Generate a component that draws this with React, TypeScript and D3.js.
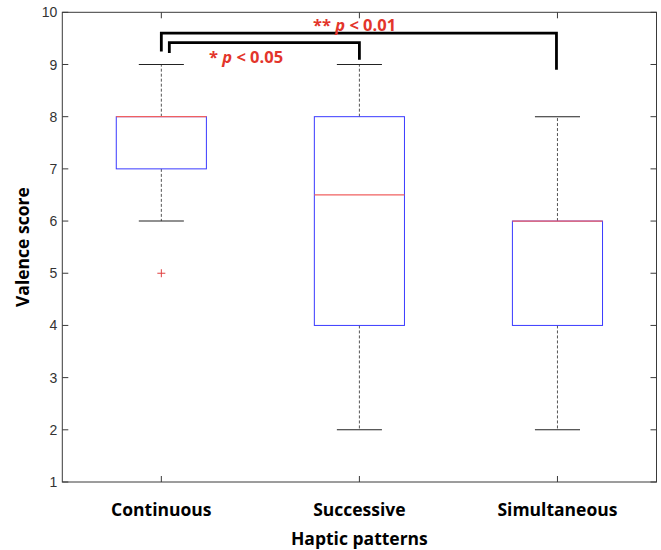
import React, { useEffect, useRef } from 'react';
import * as d3 from 'd3';

const categories = ['Continuous', 'Successive', 'Simultaneous'];
const whiskerLow = [6, 2, 2];
const q1 = [7, 4, 4];
const medians = [8, 6.5, 6];
const q3 = [8, 8, 6];
const whiskerHigh = [9, 9, 8];
const outliers = [{ group: 'Continuous', value: 5 }];
const yTicks = [1, 2, 3, 4, 5, 6, 7, 8, 9, 10];

// significance brackets: from, to, bracket level, label
const brackets = [
  { from: 'Continuous', to: 'Simultaneous', top: 9.6, leftEnd: 9.25, rightEnd: 8.9, stars: '**', label: '< 0.01' },
  { from: 'Continuous', to: 'Successive', top: 9.42, leftEnd: 9.22, rightEnd: 9.09, stars: '*', label: '< 0.05' },
];

const labelFont = '"Open Sans", "Noto Sans", sans-serif';

const App: React.FC = () => {
  const svgRef = useRef<SVGSVGElement>(null);
  const width = 661;
  const height = 550;

  useEffect(() => {
    if (!svgRef.current) return;
    const svg = d3.select(svgRef.current);
    svg.selectAll('*').remove();

    const margin = { top: 12.3, right: 4.5, bottom: 68, left: 62.3 };
    const x = d3.scaleBand<string>()
      .domain(categories)
      .range([margin.left, width - margin.right]);
    const y = d3.scaleLinear().domain([1, 10]).range([height - margin.bottom, margin.top]);
    const cx = (c: string) => (x(c) as number) + x.bandwidth() / 2;
    const boxW = x.bandwidth() * 0.455;
    const capW = boxW / 2;

    const axisColor = '#3a3a3a';

    // frame
    svg.append('rect')
      .attr('x', margin.left).attr('y', margin.top)
      .attr('width', width - margin.left - margin.right)
      .attr('height', height - margin.top - margin.bottom)
      .attr('fill', 'none').attr('stroke', axisColor).attr('stroke-width', 1);

    // y ticks (left and right, inward)
    const yt = svg.append('g');
    yTicks.forEach(t => {
      yt.append('line').attr('x1', margin.left).attr('x2', margin.left + 6)
        .attr('y1', y(t)).attr('y2', y(t)).attr('stroke', axisColor);
      yt.append('line').attr('x1', width - margin.right).attr('x2', width - margin.right - 6)
        .attr('y1', y(t)).attr('y2', y(t)).attr('stroke', axisColor);
      yt.append('text').attr('x', margin.left - 5).attr('y', y(t))
        .attr('dy', '0.36em').attr('text-anchor', 'end')
        .style('font-family', '"Liberation Sans", Arial, sans-serif')
        .style('font-size', '14px').style('fill', '#333')
        .text(t);
    });

    // x ticks (bottom and top, inward)
    categories.forEach(c => {
      svg.append('line').attr('x1', cx(c)).attr('x2', cx(c))
        .attr('y1', y(1)).attr('y2', y(1) - 6).attr('stroke', axisColor);
      svg.append('line').attr('x1', cx(c)).attr('x2', cx(c))
        .attr('y1', y(10)).attr('y2', y(10) + 6).attr('stroke', axisColor);
      svg.append('text').attr('x', cx(c)).attr('y', 516)
        .attr('text-anchor', 'middle')
        .style('font-family', labelFont)
        .style('font-weight', 'bold').style('font-size', '17.5px').style('fill', '#000')
        .text(c);
    });

    // axis titles
    svg.append('text').attr('x', cx('Successive')).attr('y', 545)
      .attr('text-anchor', 'middle')
      .style('font-family', labelFont)
      .style('font-weight', 'bold').style('font-size', '17.5px')
      .text('Haptic patterns');
    svg.append('text')
      .attr('transform', `translate(29, ${(y(1) + y(10)) / 2}) rotate(-90)`)
      .attr('text-anchor', 'middle')
      .style('font-family', labelFont)
      .style('font-weight', 'bold').style('font-size', '17.5px')
      .text('Valence score');

    // boxes
    categories.forEach((c, i) => {
      const g = svg.append('g');
      const xc = cx(c);
      // whiskers
      g.append('line').attr('x1', xc).attr('x2', xc).attr('y1', y(q3[i])).attr('y2', y(whiskerHigh[i]))
        .attr('stroke', '#555').attr('stroke-dasharray', '3,2');
      g.append('line').attr('x1', xc).attr('x2', xc).attr('y1', y(q1[i])).attr('y2', y(whiskerLow[i]))
        .attr('stroke', '#555').attr('stroke-dasharray', '3,2');
      // caps
      [whiskerHigh[i], whiskerLow[i]].forEach(v => {
        g.append('line').attr('x1', xc - capW / 2).attr('x2', xc + capW / 2)
          .attr('y1', y(v)).attr('y2', y(v)).attr('stroke', '#222').attr('stroke-width', 1.1);
      });
      // box
      g.append('rect').attr('x', xc - boxW / 2).attr('y', y(q3[i]))
        .attr('width', boxW).attr('height', y(q1[i]) - y(q3[i]))
        .attr('fill', 'none').attr('stroke', '#3a3aff').attr('stroke-width', 1);
      // median
      g.append('line').attr('x1', xc - boxW / 2).attr('x2', xc + boxW / 2)
        .attr('y1', y(medians[i])).attr('y2', y(medians[i]))
        .attr('stroke', '#f06060').attr('stroke-width', 1.2);
    });

    // outliers
    outliers.forEach(o => {
      const xc = cx(o.group);
      const yy = y(o.value);
      svg.append('path').attr('d', `M${xc - 4},${yy}H${xc + 4}M${xc},${yy - 4}V${yy + 4}`)
        .attr('stroke', '#e04040').attr('stroke-width', 1);
    });

    // significance brackets
    brackets.forEach(b => {
      const x1 = cx(b.from) + (b.stars === '*' ? 8 : 0);
      const x2 = cx(b.to) - (b.stars === '*' ? 0 : 1);
      svg.append('path')
        .attr('d', `M${x1},${y(b.leftEnd)}V${y(b.top)}H${x2}V${y(b.rightEnd)}`)
        .attr('fill', 'none').attr('stroke', '#000').attr('stroke-width', 2.8);
    });

    const sigText = (xPos: number, yPos: number, stars: string, label: string) => {
      const t = svg.append('text').attr('x', xPos).attr('y', yPos)
        .style('font-family', labelFont)
        .style('font-weight', 'bold').style('font-size', '16.5px').style('fill', '#e3352b');
      t.append('tspan').text(stars + ' ');
      t.append('tspan').style('font-style', 'italic').text('p');
      t.append('tspan').text(' ' + label);
    };
    sigText(313, 30.5, brackets[0].stars, brackets[0].label);
    sigText(209, 62.5, brackets[1].stars, brackets[1].label);
  }, []);

  return (
    <svg ref={svgRef} width={width} height={height}
      style={{ position: 'absolute', left: 0, top: 0, background: '#fff' }} />
  );
};

export default App;
